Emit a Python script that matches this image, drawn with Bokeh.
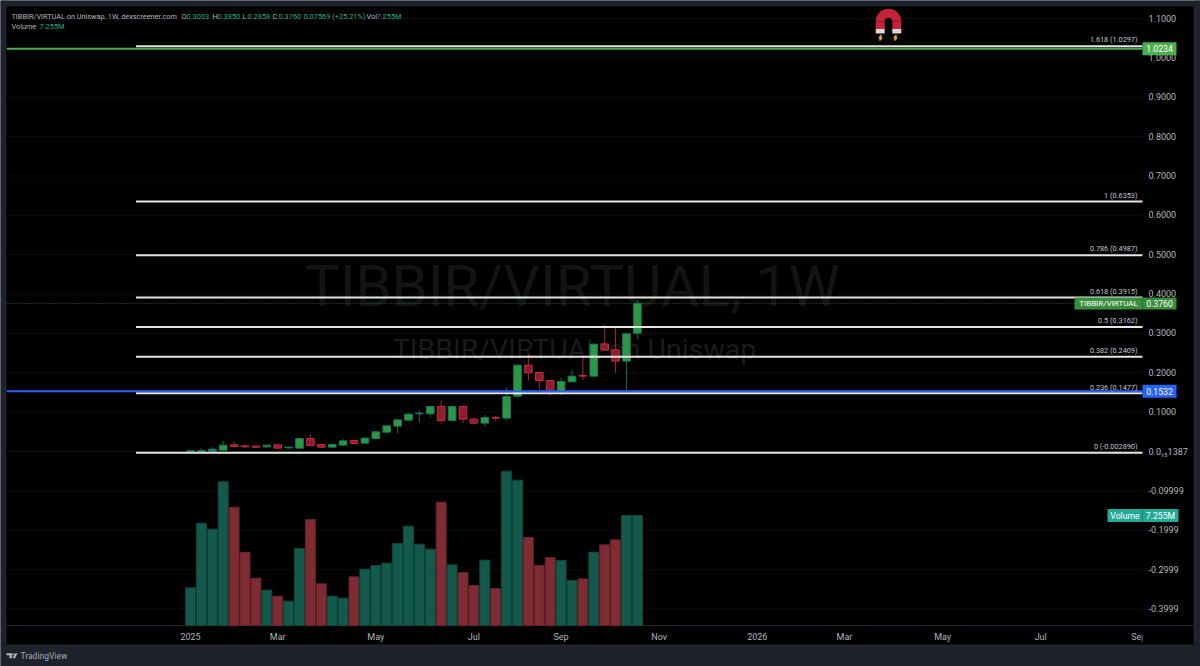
from math import pi
from bokeh.plotting import figure
from bokeh.embed import file_html
from bokeh.resources import INLINE
from bokeh.models import (ColumnDataSource, FixedTicker, Label, PolyAnnotation, Range1d)

# ---- data ----
opens = [.0005,.0008,.0010,.0034,.0169,.0144,.0136,.0119,.0169,.0093,.0085,.0330,.0178,.0110,.0161,.0279,.0212,.0330,.0491,.0644,.0796,.0957,.0957,.1143,.0788,.1143,.0822,.0720,.0864,.0847,.1406,.2193,.2007,.1804,.1524,.1770,.1931,.1914,.2735,.2583,.2295,.3003]
highs = [.0022,.0085,.0119,.0279,.0263,.0178,.0152,.0178,.0178,.0127,.0356,.0432,.0203,.0203,.0322,.0305,.0364,.0525,.0669,.0813,.0966,.1042,.1152,.1296,.1169,.1152,.0872,.0932,.0906,.1618,.2202,.2456,.2016,.1812,.1872,.2075,.2414,.2735,.3218,.3176,.2998,.3850]
lows = [.0002,.0003,.0005,.0025,.0119,.0085,.0093,.0085,.0076,.0076,.0076,.0144,.0093,.0102,.0152,.0195,.0203,.0322,.0483,.0466,.0771,.0737,.0872,.0703,.0779,.0720,.0711,.0644,.0788,.0788,.1364,.1804,.1575,.1414,.1423,.1762,.1812,.1906,.2566,.1999,.1532,.2858]
closes = [.0016,.0025,.0059,.0161,.0127,.0119,.0110,.0161,.0085,.0110,.0330,.0152,.0110,.0178,.0271,.0203,.0339,.0500,.0652,.0804,.0949,.0974,.1143,.0788,.1143,.0822,.0720,.0864,.0847,.1397,.2193,.1999,.1804,.1524,.1778,.1914,.1914,.2727,.2575,.2295,.2990,.3760]
volumes = [2.485,6.75,6.354,9.477,7.806,4.815,3.122,2.331,1.935,1.605,5.079,6.992,2.749,1.935,1.803,3.21,3.716,3.958,4.112,5.409,6.552,5.365,5.035,8.135,4.002,3.496,2.639,4.31,2.441,10.18,9.587,5.805,3.958,4.485,4.288,2.968,3.078,4.837,5.321,5.651,7.255,7.255]
fib_levels = [1.0297,.6353,.4987,.3915,.3162,.2409,.1477,-.00289]
fib_labels = ["1.618 (1.0297)","1 (0.6353)","0.786 (0.4987)","0.618 (0.3915)","0.5 (0.3162)","0.382 (0.2409)","0.236 (0.1477)","0 (-0.002890)"]
price_ticks = [1.1,1.0,.9,.8,.7,.6,.5,.4,.3,.2,.1,0.0,-.1,-.2,-.3,-.4]
price_tick_labels = ["1.1000","1.0000","0.9000","0.8000","0.7000","0.6000","0.5000","0.4000","0.3000","0.2000","0.1000","0.0₁₅1387","-0.09999","-0.1999","-0.2999","-0.3999"]
week_ticks = [0,8,17,26,34,43,52,60,69,78,87]
week_labels = ["2025","Mar","May","Jul","Sep","Nov","2026","Mar","May","Jul","Sep"]
green_level, blue_level, last_close, last_volume = 1.0234, .1532, .3760, 7.255
fib_start_week = -5

# ---- layout constants (page pixels) ----
FONT = "Roboto"
W, H = 1200, 666
PANE_L, PANE_R, PANE_B = 6, 1142, 625
X0, XS = 190.0, 10.9      # page x of first week, px per week
Y0, YS = 451.0, 393.6     # page y of price 0, px per unit
VS = 15.16                # px per million volume
GREY, TEAL = "#b2b5be", "#22ab94"
FRAME = "#1e222d"

wx = lambda px: (px - X0) / XS
wy = lambda py: (Y0 - py) / YS
py_of = lambda v: Y0 - v * YS
sx = lambda px: px
sy = lambda py: H - py

p = figure(width=W, height=H, output_backend="svg", toolbar_location=None,
           x_range=Range1d(wx(0), wx(W)), y_range=Range1d(wy(H), wy(0)),
           y_axis_location="right", background_fill_color="#000000",
           border_fill_color="#000000", outline_line_color=None,
           min_border_left=0, min_border_right=0, min_border_top=0, min_border_bottom=0)
p.extra_y_ranges = {"vol": Range1d((PANE_B - H) / VS, PANE_B / VS)}

p.grid.visible = False
p.yaxis.ticker = FixedTicker(ticks=price_ticks)
p.yaxis.major_label_overrides = dict(zip(price_ticks, price_tick_labels))
p.xaxis.ticker = FixedTicker(ticks=week_ticks)
p.xaxis.major_label_overrides = dict(zip(week_ticks, week_labels))
for ax in (p.xaxis, p.yaxis):
    ax.major_tick_line_color = None
    ax.minor_tick_line_color = None
    ax.axis_line_color = None
    ax.major_label_text_font = FONT
    ax.major_label_text_font_size = "9px"
    ax.major_label_text_color = GREY
# The axes reach back into the picture, so that price tags can lie over their band.
p.yaxis.major_label_standoff = -58
p.xaxis.major_label_standoff = -41


def text(px, py, s, color=GREY, size=9, align="left", level="overlay", style="normal"):
    p.add_layout(Label(x=sx(px), y=sy(py), x_units="screen", y_units="screen", text=s,
                       text_color=color, text_font=FONT, text_font_size=f"{size}px",
                       text_align=align, text_baseline="middle", level=level,
                       text_font_style=style))


def poly(pts, color):
    p.add_layout(PolyAnnotation(xs=[sx(a) for a, _ in pts], ys=[sy(b) for _, b in pts],
                                xs_units="screen", ys_units="screen", fill_color=color,
                                fill_alpha=1, line_color=None, level="overlay"))


def tag(x1, x2, yc, s, color, h=13, size=8.7):
    poly([(x1, yc - h / 2), (x2, yc - h / 2), (x2, yc + h / 2), (x1, yc + h / 2)], color)
    text((x1 + x2) / 2, yc, s, "#ffffff", size, "center")


# grid and pane edge
p.segment(x0=[wx(PANE_L)] * len(price_ticks), x1=[wx(PANE_R)] * len(price_ticks),
          y0=price_ticks, y1=price_ticks, line_color="#0d0e11", line_width=1)
p.line([wx(PANE_L), wx(1193)], [wy(PANE_B)] * 2, line_color="#23262f", line_width=1)

# watermarks
text(572, 285, "TIBBIR/VIRTUAL, 1W", "#141414", 58, "center", "underlay")
text(574, 349, "TIBBIR/VIRTUAL on Uniswap", "#1b1b1b", 28.5, "center", "underlay")

# volume
weeks = list(range(len(opens)))
up = [c >= o for o, c in zip(opens, closes)]
src = ColumnDataSource(dict(
    x=weeks, o=opens, h=highs, l=lows, c=closes, v=volumes,
    top=[max(a, b) for a, b in zip(opens, closes)],
    bot=[min(a, b) for a, b in zip(opens, closes)],
    vcol=["#13594c" if u else "#7f2b33" for u in up],
    vedge=["#0f463c" if u else "#642229" for u in up],
    wick=["#0e6b59" if u else "#a82636" for u in up],
    body=["#2f9644" if u else "#8c1f2d" for u in up],
    edge=["#127a5f" if u else "#c9283d" for u in up]))
p.vbar(x="x", top="v", bottom=0, width=0.92, source=src, y_range_name="vol",
       fill_color="vcol", line_color="vedge", line_width=1)

# current price dotted line
p.line([wx(PANE_L), wx(PANE_R)], [last_close, last_close], line_color="#1f6a33", line_width=1, line_dash="1 2")

# candles
p.segment(x0="x", x1="x", y0="l", y1="h", source=src, line_color="wick", line_width=1)
p.vbar(x="x", top="top", bottom="bot", width=0.7, source=src,
       fill_color="body", line_color="edge", line_width=1)

# horizontal levels
for lv in fib_levels:
    p.line([fib_start_week, wx(PANE_R)], [lv, lv], line_color="#e6e6e6", line_width=2)
p.line([wx(PANE_L), wx(PANE_R)], [green_level, green_level], line_color="#4caf50", line_width=2)
p.line([wx(PANE_L), wx(PANE_R)], [blue_level, blue_level], line_color="#2962ff", line_width=2)

for lv, s in zip(fib_levels, fib_labels):
    text(1137, py_of(lv) - 6.3, s, "#c4c6cc", 7.3, "right")

# price tags
tag(1142, 1176, py_of(green_level), "1.0234", "#4caf50")
tag(1074, 1142, py_of(last_close), "TIBBIR/VIRTUAL", "#388e3c", 12, 8)
tag(1142, 1176, py_of(last_close), "0.3760", "#388e3c", 12)
tag(1142, 1176, py_of(blue_level), "0.1532", "#2962ff")
vol_y = PANE_B - last_volume * VS
tag(1107, 1142, vol_y, "Volume", TEAL)
tag(1142, 1178, vol_y, "7.255M", TEAL)

# header
HS = 7.4
text(11, 15.5, "TIBBIR/VIRTUAL on Uniswap, 1W, dexscreener.com", size=7.3)
for x1, s1, x2, s2 in [(181, "O", 186, "0.3003"), (212, "H", 217, "0.3850"),
                       (242, "L", 247, "0.2858"), (272, "C", 278, "0.3760")]:
    text(x1, 15.5, s1, size=HS)
    text(x2, 15.5, s2, TEAL, HS)
text(303, 15.5, "0.07569 (+25.21%)", TEAL, HS)
text(366, 15.5, "Vol", size=HS)
text(376, 15.5, "7.255M", TEAL, HS)
text(11, 25.5, "Volume", size=7.3)
text(39, 25.5, "7.255M", TEAL, HS)

# magnet icon
mx = wx(888)
p.annular_wedge([mx], [wy(21)], inner_radius=3.8, outer_radius=12.8, start_angle=0, end_angle=pi,
                inner_radius_units="screen", outer_radius_units="screen",
                fill_color="#c8213a", line_color=None)
p.rect([wx(879.7), wx(896.3)], [wy(24.7)] * 2, width=9, height=7.6, width_units="screen",
       height_units="screen", fill_color="#c8213a", line_color=None)
p.rect([wx(879.7), wx(896.3)], [wy(30.7)] * 2, width=9, height=4.6, width_units="screen",
       height_units="screen", fill_color="#d6d8dc", line_color=None)
for bx in (880, 895):
    p.line([wx(bx + 1), wx(bx - 1.5), wx(bx + 1.5), wx(bx - 1)],
           [wy(34.5), wy(37.5), wy(37), wy(40)], line_color="#f5a623", line_width=1.5)

# the last date label ends at the edge of the price band
poly([(1142, 627), (1165, 627), (1165, 643), (1142, 643)], "#000000")

# outer frame
poly([(0, 644), (W, 644), (W, H), (0, H)], FRAME)
poly([(0, 0), (6, 0), (6, 644), (0, 644)], FRAME)
poly([(0, 0), (W, 0), (W, 6), (0, 6)], FRAME)
poly([(1193, 0), (W, 0), (W, 644), (1193, 644)], FRAME)
# footer
poly([(6, 652.7), (11.5, 652.7), (11.5, 657.7), (9, 657.7), (9, 654.7), (6, 654.7)], GREY)
poly([(14.5, 652.7), (17, 652.7), (14.5, 657.7), (12, 657.7)], GREY)
poly([(11.9, 652.9), (13.4, 652.9), (13.4, 654.4), (11.9, 654.4)], GREY)
text(20, 655.3, "TradingView", "#a8abb4", 8.5)

html = file_html(p, INLINE).replace("<body>", '<body style="margin:0;overflow:hidden;background:#1e222d">', 1)
open("out.html", "w").write(html)
